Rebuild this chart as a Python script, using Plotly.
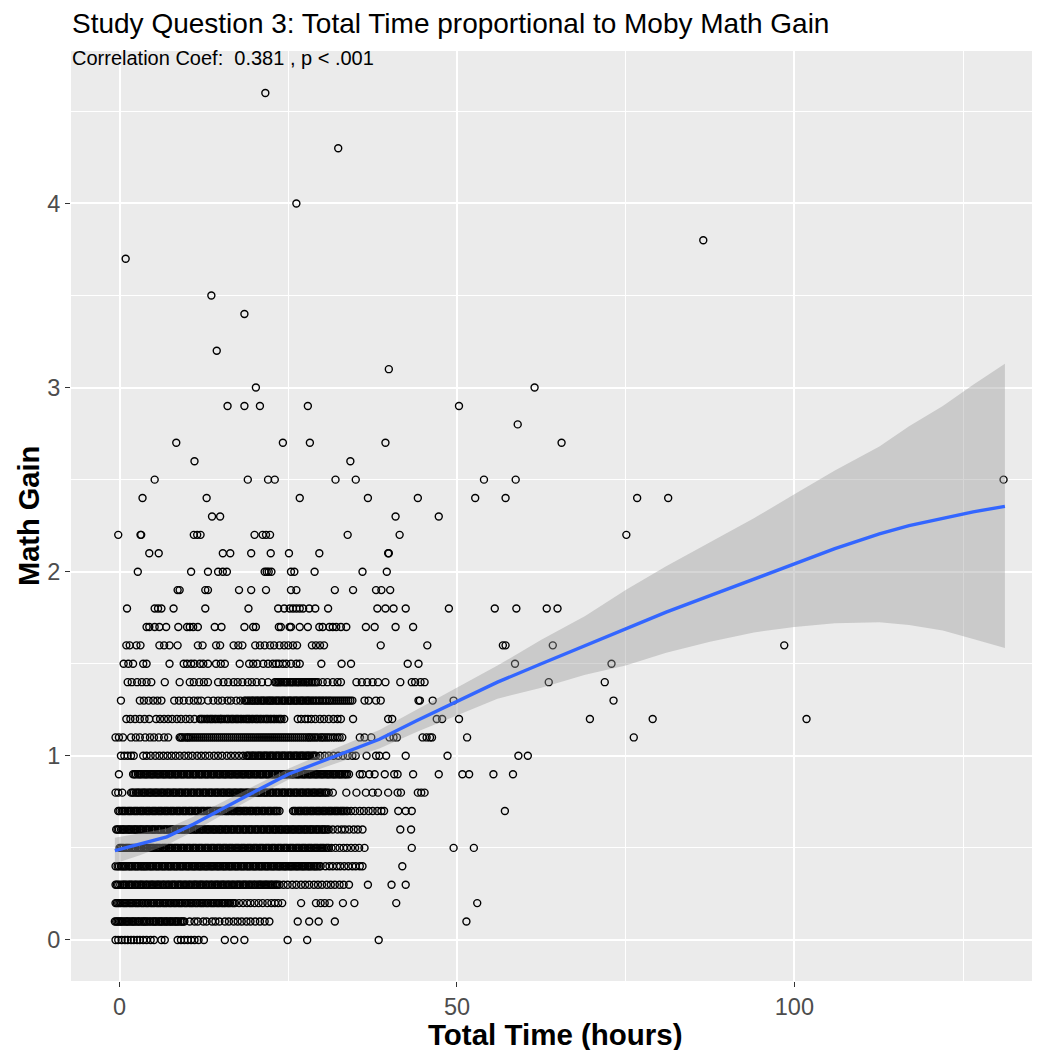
import plotly.graph_objects as go

# ---------------- data ----------------
gain_levels = [0.0, 0.1, 0.2, 0.3, 0.4, 0.5, 0.6, 0.7, 0.8, 0.9, 1.0,
               1.1, 1.2, 1.3, 1.4, 1.5, 1.6, 1.7, 1.8, 1.9, 2.0,
               2.1, 2.2, 2.3, 2.4, 2.5, 2.6, 2.7, 2.8, 2.9, 3.0,
               3.1, 3.2, 3.4, 3.5, 3.7, 3.8, 4.0, 4.3, 4.6]

hours_g00 = [-0.6, -0.2, 0.3, 0.8, 1.2, 1.7, 2.1, 2.6, 3.0, 3.5, 4.0, 4.6, 5.1, 6.2, 6.7,
             8.6, 9.1, 9.6, 10.1, 10.6, 11.1, 11.7, 12.5, 15.6, 17.0, 18.5, 24.9, 27.8, 38.4]
hours_g01 = [-0.7, -0.3, 0.1, 0.5, 1.0, 1.4, 1.9, 2.3, 2.8, 3.3, 3.7, 4.1, 4.6, 5.1, 5.5, 6.0,
             6.4, 6.9, 7.4, 7.8, 8.3, 8.7, 9.2, 9.6, 10.4, 11.1, 11.6, 12.4, 12.9, 13.7, 14.2,
             14.8, 15.6, 16.2, 16.9, 17.5, 18.1, 18.8, 19.4, 20.1, 20.8, 21.5, 22.2, 26.4, 28.1,
             29.5, 31.9, 51.4,
             -0.5, -0.1, 0.3, 0.8, 1.2, 1.7, 2.1, 2.6, 3.0, 3.5, 3.9, 4.4, 4.9, 5.3, 5.8, 6.2,
             6.7, 7.1, 7.6, 8.1, 8.5, 9.0, 9.4]
hours_g02 = [-0.6, -0.2, 0.2, 0.7, 1.1, 1.6, 2.0, 2.5, 2.9, 3.4, 3.9, 4.3, 4.8, 5.2, 5.7, 6.1,
             6.6, 7.0, 7.5, 8.0, 8.4, 8.9, 9.3, 9.8, 10.3, 10.7, 11.2, 11.6, 12.1, 12.5, 13.0,
             13.5, 13.9, 14.4, 14.8, 15.3, 15.7, 16.2, 16.7, 17.1, 17.7, 18.3, 18.9, 19.4, 20.0,
             20.6, 21.2, 21.9, 22.5, 23.0, 23.5, 24.1, 26.9, 29.1, 29.8, 30.4, 31.1, 33.1,
             34.8, 41.0, 53.0,
             -0.4, 0.0, 0.5, 0.9, 1.4, 1.8, 2.3, 2.7, 3.2, 3.6, 4.1, 4.6, 5.0, 5.5, 5.9, 6.4,
             6.8, 7.3, 7.7, 8.2, 8.7, 9.1, 9.6, 10.0, 10.5, 10.9, 11.4, 11.9, 12.3, 12.8, 13.2,
             13.7, 14.1, 14.6, 15.1, 15.5, 16.0, 16.4, 16.9]
hours_g03 = [-0.6, -0.2, 0.4, 0.8, 1.3, 1.7, 2.2, 2.6, 3.1, 3.5, 4.0, 4.5, 4.9, 5.4, 5.8, 6.3,
             6.7, 7.2, 7.7, 8.1, 8.6, 9.0, 9.5, 9.9, 10.4, 10.9, 11.3, 11.8, 12.2, 12.7, 13.1,
             13.6, 14.1, 14.5, 15.0, 15.4, 15.9, 16.3, 16.8, 17.3, 17.7, 18.2, 18.6, 19.1, 19.5,
             20.0, 20.5, 20.9, 21.4, 21.8, 22.3, 22.7, 23.2, 23.7, 24.3, 24.9, 25.6, 26.2, 26.9,
             27.5, 28.1, 28.8, 29.4, 30.0, 30.7, 31.3, 31.9, 32.6, 33.2, 34.0, 36.8, 40.3, 42.4,
             -0.4, 0.1, 0.6, 1.0, 1.5, 1.9, 2.4, 2.9, 3.3, 3.8, 4.2, 4.7, 5.1, 5.6, 6.0, 6.5,
             7.0, 7.4, 7.9, 8.3, 8.8, 9.2, 9.7, 10.2, 10.6, 11.1, 11.5, 12.0, 12.4, 12.9, 13.4,
             13.8, 14.3, 14.7, 15.2, 15.6, 16.1, 16.6, 17.0, 17.5, 17.9, 18.4, 18.8, 19.3, 19.8,
             20.2, 20.7, 21.1, 21.6, 22.0, 22.5, 23.0, 23.4]
hours_g04 = [-0.6, -0.3, 0.2, 0.6, 1.0, 1.5, 1.9, 2.4, 2.8, 3.3, 3.7, 4.1, 4.6, 5.0, 5.5, 5.9,
             6.4, 6.8, 7.3, 7.7, 8.2, 8.6, 9.1, 9.5, 10.0, 10.4, 10.9, 11.3, 11.8, 12.2, 12.7,
             13.1, 13.6, 14.0, 14.5, 14.9, 15.4, 15.8, 16.3, 16.7, 17.2, 17.6, 18.1, 18.5, 19.0,
             19.4, 19.9, 20.3, 20.8, 21.2, 21.7, 22.1, 22.6, 23.0, 23.5, 23.9, 24.4, 24.8, 25.3,
             25.7, 26.2, 26.6, 27.1, 27.5, 28.0, 28.4, 28.9, 29.3, 29.8, 30.5, 31.1, 31.6, 32.2,
             32.7, 33.3, 33.9, 34.5, 35.0, 35.6, 36.0, 41.9,
             -0.1, 0.4, 0.8, 1.3, 1.7, 2.2, 2.6, 3.1, 3.5, 3.9, 4.4, 4.8, 5.3, 5.7, 6.2, 6.6,
             7.1, 7.5, 8.0, 8.4, 8.9, 9.3, 9.8, 10.2, 10.7, 11.1, 11.6, 12.0, 12.5, 12.9, 13.4,
             13.8, 14.3, 14.7, 15.2, 15.6, 16.1, 16.5, 17.0, 17.4, 17.9, 18.3, 18.8, 19.2, 19.7,
             20.1, 20.6, 21.0, 21.5, 21.9, 22.4, 22.8, 23.3, 23.7, 24.2, 24.6, 25.1, 25.5, 26.0,
             26.4, 26.9, 27.3, 27.8, 28.2, 28.7, 29.1, 29.6]
hours_g05 = [0.0, 0.4, 0.9, 1.3, 1.8, 2.2, 2.7, 3.1, 3.6, 4.0, 4.5, 4.9, 5.4, 5.8, 6.3, 6.7,
             7.2, 7.6, 8.1, 8.5, 9.0, 9.4, 9.9, 10.3, 10.8, 11.2, 11.7, 12.1, 12.6, 13.0, 13.5,
             13.9, 14.4, 14.8, 15.3, 15.7, 16.2, 16.6, 17.1, 17.5, 18.0, 18.4, 18.9, 19.3, 19.8,
             20.2, 20.7, 21.1, 21.6, 22.0, 22.5, 22.9, 23.4, 23.8, 24.3, 24.7, 25.2, 25.6, 26.1,
             26.5, 27.0, 27.4, 27.9, 28.3, 28.8, 29.2, 29.7, 30.1, 30.6, 31.0, 31.4, 32.0, 32.6,
             33.2, 33.7, 34.3, 34.9, 35.5, 36.3, 43.3, 49.5, 52.5,
             0.2, 0.6, 1.1, 1.5, 2.0, 2.4, 2.9, 3.3, 3.8, 4.2, 4.7, 5.1, 5.6, 6.0, 6.5, 6.9,
             7.4, 7.8, 8.3, 8.7, 9.2, 9.6, 10.1, 10.5, 11.0, 11.4, 11.9, 12.3, 12.8, 13.2, 13.7,
             14.1, 14.6, 15.0, 15.5, 15.9, 16.4, 16.8, 17.3, 17.7, 18.2, 18.6, 19.1, 19.5, 20.0,
             20.4, 20.9, 21.3, 21.8, 22.2, 22.7, 23.1, 23.6, 24.0, 24.5, 24.9, 25.4, 25.8, 26.3,
             26.7, 27.2, 27.6, 28.1, 28.5, 29.0, 29.4, 29.9, 30.3, 30.8]
hours_g06 = [-0.5, -0.1, 0.4, 0.8, 1.3, 1.7, 2.2, 2.6, 3.1, 3.5, 4.0, 4.4, 4.9, 5.3, 5.8, 6.2,
             6.7, 7.1, 7.6, 8.0, 8.5, 8.9, 9.4, 9.8, 10.3, 10.7, 11.2, 11.6, 12.1, 12.5, 13.0,
             13.4, 13.9, 14.3, 14.8, 15.2, 15.7, 16.1, 16.6, 17.0, 17.5, 17.9, 18.4, 18.8, 19.3,
             19.7, 20.2, 20.6, 21.1, 21.5, 22.0, 22.4, 22.9, 23.3, 23.8, 24.2, 24.7, 25.1, 25.6,
             26.0, 26.5, 26.9, 27.4, 27.8, 28.3, 28.7, 29.2, 29.6, 30.1, 30.5, 31.0, 31.6, 32.3,
             32.9, 33.4, 34.0, 34.7, 35.3, 36.0, 41.6, 43.2,
             -0.3, 0.2, 0.6, 1.1, 1.5, 2.0, 2.4, 2.9, 3.3, 3.8, 4.2, 4.7, 5.1, 5.6, 6.0, 6.5,
             6.9, 7.4, 7.8, 8.3, 8.7, 9.2, 9.6, 10.1, 10.5, 11.0, 11.4, 11.9, 12.3, 12.8, 13.2,
             13.7, 14.1, 14.6, 15.0, 15.5, 15.9, 16.4, 16.8, 17.3, 17.7, 18.2, 18.6, 19.1, 19.5,
             20.0, 20.4, 20.9, 21.3, 21.8, 22.2, 22.7, 23.1, 23.6, 24.0, 24.5, 24.9, 25.4, 25.8,
             26.3, 26.7, 27.2, 27.6, 28.1, 28.5, 29.0, 29.4, 29.9, 30.3, 30.8]
hours_g07 = [-0.2, 0.3, 0.7, 1.2, 1.6, 2.1, 2.5, 3.0, 3.4, 3.9, 4.3, 4.8, 5.2, 5.7, 6.1, 6.6,
             7.0, 7.5, 7.9, 8.4, 8.8, 9.3, 9.7, 10.2, 10.6, 11.1, 11.5, 12.0, 12.4, 12.9, 13.3,
             13.8, 14.2, 14.7, 15.1, 15.6, 16.0, 16.5, 16.9, 17.4, 17.8, 18.3, 18.7, 19.2, 19.6,
             20.1, 20.5, 21.0, 21.4, 21.9, 22.3, 22.8, 23.2, 23.7, 25.7, 26.1, 26.6, 27.0, 27.5,
             27.9, 28.4, 28.8, 29.3, 29.7, 30.2, 30.6, 31.1, 31.5, 32.0, 32.4, 32.9, 33.3, 33.8,
             34.3, 34.9, 35.6, 36.2, 36.9, 37.5, 38.2, 38.8, 39.2, 41.3, 42.4, 43.3, 57.1,
             0.0, 0.5, 0.9, 1.4, 1.8, 2.3, 2.7, 3.2, 3.6, 4.1, 4.5, 5.0, 5.4, 5.9, 6.3, 6.8,
             7.2, 7.7, 8.1, 8.6, 9.0, 9.5, 9.9, 10.4, 10.8, 11.3, 11.7, 12.2, 12.6, 13.1, 13.5,
             14.0, 14.4, 14.9, 15.3, 15.8, 16.2, 16.7, 17.1, 17.6, 18.0, 18.5, 18.9, 19.4, 19.8,
             20.3, 20.7, 21.2, 21.6, 22.1, 22.5, 23.0, 23.4, 25.9, 26.4, 26.8, 27.3, 27.7, 28.2,
             28.6, 29.1, 29.5, 30.0, 30.4, 30.9, 31.3, 31.8, 32.2, 32.7, 33.1, 33.6]
hours_g08 = [-0.6, -0.2, 0.4, 1.7, 2.1, 2.6, 3.0, 3.5, 3.9, 4.4, 4.8, 5.3, 5.7, 6.2, 6.6, 7.1,
             7.5, 8.0, 8.4, 8.9, 9.3, 9.8, 10.2, 10.7, 11.1, 11.6, 12.0, 12.5, 12.9, 13.4, 13.8,
             14.3, 14.7, 15.2, 15.6, 16.1, 16.5, 17.0, 17.4, 17.9, 18.3, 18.8, 19.2, 19.7, 20.1,
             20.6, 21.0, 21.5, 21.9, 22.4, 22.8, 23.3, 23.7, 24.2, 24.6, 25.1, 25.5, 26.0, 26.4,
             26.9, 27.3, 27.8, 28.2, 28.7, 29.1, 29.6, 30.0, 30.5, 31.0, 31.6, 33.6, 35.1, 36.5,
             37.5, 38.3, 39.8, 41.2, 41.7, 44.2, 44.7, 45.2,
             1.9, 2.4, 2.8, 3.3, 3.7, 4.2, 4.6, 5.1, 5.5, 6.0, 6.4, 6.9, 7.3, 7.8, 8.2, 8.7,
             9.1, 9.6, 10.0, 10.5, 10.9, 11.4, 11.8, 12.3, 12.7, 13.2, 13.6, 14.1, 14.5, 15.0,
             15.4, 15.9, 16.3, 16.8, 17.2, 17.7, 18.1, 18.6, 19.0, 19.5, 19.9, 20.4, 20.8, 21.3,
             21.7, 22.2, 22.6, 23.1, 23.5, 24.0, 24.4, 24.9, 25.3, 25.8, 26.2, 26.7, 27.1, 27.6,
             28.0, 28.5, 28.9, 29.4, 29.8, 30.3, 30.7]
hours_g09 = [-0.1, 2.0, 2.4, 2.9, 3.3, 3.8, 4.2, 4.7, 5.1, 5.6, 6.0, 6.5, 6.9, 7.4, 7.8, 8.3,
             8.7, 9.2, 9.6, 10.1, 10.5, 11.0, 11.4, 11.9, 12.3, 12.8, 13.2, 13.7, 14.1, 14.6,
             15.0, 15.5, 15.9, 16.4, 16.8, 17.3, 17.7, 18.2, 18.6, 19.1, 19.5, 20.0, 20.4, 20.9,
             21.3, 21.8, 22.2, 22.7, 23.1, 23.6, 24.0, 24.5, 24.9, 25.4, 25.8, 26.3, 26.7, 27.2,
             27.6, 28.1, 28.5, 29.0, 29.4, 29.9, 30.3, 30.8, 31.2, 31.7, 32.1, 32.6, 33.0, 33.5,
             34.0, 35.6, 36.0, 37.0, 37.8, 39.3, 40.7, 41.2, 43.5, 47.3, 50.8, 51.8, 55.4, 58.3,
             2.2, 2.7, 3.1, 3.6, 4.0, 4.5, 4.9, 5.4, 5.8, 6.3, 6.7, 7.2, 7.6, 8.1, 8.5, 9.0,
             9.4, 9.9, 10.3, 10.8, 11.2, 11.7, 12.1, 12.6, 13.0, 13.5, 13.9, 14.4, 14.8, 15.3,
             15.7, 16.2, 16.6, 17.1, 17.5, 18.0, 18.4, 18.9, 19.3, 19.8, 20.2, 20.7, 21.1, 21.6,
             22.0, 22.5, 22.9, 23.4, 23.8, 24.3, 24.7, 25.2, 25.6, 26.1, 26.5, 27.0, 27.4, 27.9,
             28.3, 28.8, 29.2, 29.7, 30.1, 30.6, 31.0, 31.5, 31.9, 32.4, 32.8, 33.3, 33.7]
hours_g10 = [0.2, 0.7, 1.2, 1.7, 2.1, 3.5, 4.0, 4.6, 5.3, 5.9, 6.5, 7.1, 7.7, 8.3, 8.9, 9.6,
             10.2, 10.8, 11.5, 12.1, 12.7, 13.3, 14.0, 14.6, 15.2, 15.9, 16.5, 17.1, 17.7, 18.3,
             18.8, 19.2, 19.7, 20.1, 20.6, 21.0, 21.5, 21.9, 22.4, 22.8, 23.3, 23.7, 24.2, 24.6,
             25.1, 25.5, 26.0, 26.4, 26.9, 27.3, 27.8, 28.2, 28.7, 29.1, 29.7, 30.4, 31.0, 31.7,
             32.4, 33.1, 33.8, 34.5, 35.0, 36.6, 38.0, 38.5, 39.5, 42.4, 48.6, 59.1, 60.5,
             19.0, 19.5, 19.9, 20.4, 20.8, 21.3, 21.7, 22.2, 22.6, 23.1, 23.5, 24.0, 24.4, 24.9,
             25.3, 25.8, 26.2, 26.7, 27.1, 27.6, 28.0, 28.5, 28.9]
hours_g11 = [-0.6, -0.1, 0.5, 1.7, 2.4, 3.0, 3.8, 4.5, 5.1, 5.8, 6.6, 7.2, 8.9, 9.3, 9.9, 10.3,
             10.9, 11.5, 11.8, 12.4, 13.0, 13.3, 13.9, 14.5, 14.8, 15.4, 16.0, 16.3, 16.9, 17.5,
             17.8, 18.4, 19.0, 19.3, 19.9, 20.5, 20.8, 21.4, 22.0, 22.3, 22.9, 23.5, 23.8, 24.4,
             25.0, 25.3, 25.9, 26.5, 26.8, 27.4, 28.0, 28.5, 29.1, 29.8, 30.3, 30.9, 31.6, 32.3,
             33.0, 35.6, 36.3, 37.3, 40.0, 40.6, 41.1, 44.9, 45.5, 46.0, 46.3, 51.5, 76.2,
             9.1, 9.6, 10.1, 10.6, 11.2, 12.1, 12.7, 13.6, 14.2, 15.1, 15.7, 16.6, 17.2, 18.1,
             18.7, 19.6, 20.2, 21.1, 21.7, 22.6, 23.2, 24.1, 24.7, 25.6, 26.2, 27.1, 27.7, 28.2,
             28.8, 29.4, 30.0, 30.6, 31.2, 31.9, 32.6]
hours_g12 = [1.0, 1.6, 2.3, 3.0, 3.7, 4.4, 5.4, 6.0, 6.6, 7.2, 7.8, 8.5, 9.1, 9.8, 10.4, 11.1,
             11.9, 12.3, 12.9, 13.4, 13.8, 14.3, 14.9, 15.2, 15.8, 16.2, 16.7, 17.2, 17.6, 18.1,
             18.7, 19.1, 19.6, 20.1, 20.5, 21.0, 21.6, 22.0, 22.5, 23.0, 23.6, 24.0, 24.4, 26.4,
             26.9, 27.5, 27.9, 28.4, 29.0, 29.7, 30.3, 31.0, 31.7, 32.3, 32.8, 34.6, 39.8, 40.4,
             47.0, 47.8, 50.3, 69.7, 79.0, 101.8,
             12.1, 12.6, 13.1, 13.6, 14.1, 14.6, 15.0, 15.5, 16.0, 16.5, 16.9, 17.4, 17.9, 18.4,
             18.9, 19.3, 19.8, 20.3, 20.8, 21.3, 21.8, 22.3, 22.8, 23.3, 23.8]
hours_g13 = [0.2, 3.0, 3.6, 4.3, 5.0, 5.6, 6.2, 8.1, 8.8, 9.5, 10.3, 11.0, 11.6, 12.1, 13.1,
             13.9, 14.6, 15.2, 16.0, 16.5, 17.3, 17.9, 18.5, 19.0, 19.5, 19.9, 20.4, 20.9, 21.3,
             21.8, 22.2, 22.6, 23.1, 23.5, 24.0, 24.4, 24.9, 25.3, 25.8, 26.2, 26.7, 27.1, 27.6,
             28.0, 28.5, 29.0, 29.5, 30.0, 30.5, 31.0, 31.5, 32.1, 32.7, 33.3, 33.9, 34.5, 36.3,
             36.9, 38.0, 38.7, 44.3, 44.5, 46.4, 49.5, 73.2,
             18.7, 19.2, 19.7, 20.2, 20.6, 21.1, 21.5, 22.0, 22.4, 22.8, 23.3, 23.7, 24.2, 24.6,
             25.1, 25.5, 26.0, 26.4, 26.9, 27.3, 27.8, 28.2, 28.7, 29.2, 29.7, 30.2, 30.7, 31.2,
             31.8, 32.4, 33.0, 33.6, 34.2]
hours_g14 = [1.2, 1.8, 2.6, 3.3, 4.0, 4.7, 6.7, 8.9, 10.4, 11.0, 11.8, 12.5, 13.1, 14.6, 15.4,
             16.1, 16.9, 17.5, 18.2, 19.0, 19.6, 20.3, 21.1, 22.0, 23.0, 23.4, 23.8, 24.3, 24.7,
             25.2, 25.6, 26.1, 26.5, 27.0, 27.5, 27.9, 28.4, 28.9, 29.4, 30.1, 30.8, 31.6, 32.3,
             32.8, 35.1, 35.9, 36.7, 37.5, 38.3, 39.4, 41.6, 43.3, 43.8, 44.6, 45.2, 63.6, 71.9,
             23.2, 23.6, 24.0, 24.5, 24.9, 25.4, 25.8, 26.3, 26.7, 27.2, 27.7, 28.1, 28.6, 29.1]
hours_g15 = [0.6, 1.3, 2.0, 3.5, 4.0, 7.4, 9.5, 10.0, 10.6, 11.1, 11.9, 12.4, 13.1, 14.3, 15.0,
             15.6, 17.8, 19.2, 19.8, 20.4, 21.3, 22.0, 22.7, 23.2, 23.6, 24.2, 24.7, 25.4, 26.2,
             26.7, 29.9, 32.9, 34.3, 42.7, 44.3, 58.6, 72.9]
hours_g16 = [1.0, 1.5, 2.5, 3.1, 5.9, 6.6, 7.4, 8.6, 11.6, 12.3, 14.3, 14.9, 16.9, 17.6, 18.2,
             20.1, 20.8, 21.5, 22.3, 22.9, 23.7, 24.4, 25.0, 25.7, 26.3, 28.5, 29.1, 29.7, 30.3,
             38.7, 45.6, 56.8, 57.2, 64.2, 98.5]
hours_g17 = [4.0, 4.4, 5.2, 5.9, 6.9, 8.7, 10.0, 10.4, 10.9, 11.6, 14.1, 15.1, 18.5, 19.8, 20.2,
             23.6, 23.9, 25.2, 25.4, 26.7, 27.9, 29.6, 30.1, 31.1, 31.6, 32.1, 32.8, 33.6, 36.5,
             37.8, 40.9, 43.5]
hours_g18 = [1.1, 5.2, 5.7, 6.2, 8.0, 12.7, 19.1, 23.5, 24.4, 25.2, 25.7, 26.2, 26.7, 27.2,
             28.1, 29.0, 30.9, 38.2, 39.4, 40.6, 42.4, 48.8, 55.6, 58.8, 63.3, 64.9]
hours_g19 = [8.6, 8.9, 12.7, 13.1, 17.7, 19.5, 21.7, 25.4, 26.2, 31.9, 34.6, 38.0, 38.8, 40.1]
hours_g20 = [2.7, 10.6, 13.1, 14.6, 15.3, 15.9, 21.5, 21.8, 22.1, 22.5, 25.4, 25.9, 28.9,
             36.0, 39.6]
hours_g21 = [4.4, 5.8, 15.3, 16.4, 19.5, 22.4, 25.1, 29.6, 39.8, 39.9]
hours_g22 = [-0.2, 3.1, 3.2, 11.0, 11.5, 12.0, 20.0, 21.2, 21.7, 22.3, 33.8, 41.5, 75.1]
hours_g23 = [13.7, 14.9, 40.9, 47.3]
hours_g24 = [3.4, 12.9, 26.7, 36.8, 44.2, 52.7, 57.2, 76.7, 81.3]
hours_g25 = [5.2, 19.0, 22.0, 23.0, 32.0, 35.0, 54.0, 58.7, 131.0]
hours_g26 = [11.1, 34.2]
hours_g27 = [8.4, 24.2, 28.2, 39.4, 65.5]
hours_g28 = [59.0]
hours_g29 = [16.0, 18.5, 20.8, 27.9, 50.3]
hours_g30 = [20.2, 61.5]
hours_g31 = [39.9]
hours_g32 = [14.4]
hours_g34 = [18.5]
hours_g35 = [13.6]
hours_g37 = [0.9]
hours_g38 = [86.5]
hours_g40 = [26.2]
hours_g43 = [32.4]
hours_g46 = [21.6]

hours_by_level = [hours_g00, hours_g01, hours_g02, hours_g03, hours_g04, hours_g05, hours_g06,
                  hours_g07, hours_g08, hours_g09, hours_g10, hours_g11, hours_g12, hours_g13,
                  hours_g14, hours_g15, hours_g16, hours_g17, hours_g18, hours_g19, hours_g20,
                  hours_g21, hours_g22, hours_g23, hours_g24, hours_g25, hours_g26, hours_g27,
                  hours_g28, hours_g29, hours_g30, hours_g31, hours_g32, hours_g34, hours_g35,
                  hours_g37, hours_g38, hours_g40, hours_g43, hours_g46]

fit_x = [-0.7, 3, 7, 11, 15, 20, 25, 31, 38.5, 44, 50, 56, 62.5, 69, 75, 81, 87.5, 94, 100,
         106, 112.6, 117, 122, 126.5, 131.2]
fit_y = [0.485, 0.52, 0.56, 0.63, 0.71, 0.805, 0.90, 0.985, 1.09, 1.19, 1.295, 1.40, 1.50,
         1.60, 1.69, 1.78, 1.87, 1.96, 2.04, 2.125, 2.205, 2.25, 2.29, 2.325, 2.355]
fit_hi = [0.555, 0.58, 0.605, 0.67, 0.745, 0.835, 0.93, 1.025, 1.14, 1.25, 1.37, 1.49, 1.63,
          1.76, 1.90, 2.03, 2.16, 2.29, 2.42, 2.55, 2.68, 2.79, 2.90, 3.015, 3.13]
fit_lo = [0.415, 0.46, 0.515, 0.59, 0.675, 0.775, 0.87, 0.945, 1.04, 1.13, 1.22, 1.31, 1.37,
          1.44, 1.49, 1.56, 1.62, 1.67, 1.70, 1.72, 1.725, 1.71, 1.68, 1.635, 1.585]

title_text = "Study Question 3: Total Time proportional to Moby Math Gain"
subtitle_text = "Correlation Coef:  0.381 , p < .001"
x_title = "Total Time (hours)"
y_title = "Math Gain"
x_ticks = [0, 50, 100]
y_ticks = [0, 1, 2, 3, 4]

# ---------------- figure ----------------
pts_x, pts_y = [], []
for lvl, hrs in zip(gain_levels, hours_by_level):
    for h in hrs:
        pts_x.append(h)
        pts_y.append(lvl)

FONT = "Liberation Sans, Arial, Helvetica, sans-serif"

fig = go.Figure()
fig.add_trace(go.Scatter(
    x=pts_x, y=pts_y, mode="markers",
    marker=dict(symbol="circle-open", size=7, color="black", line=dict(width=1.4, color="black")),
    showlegend=False, hoverinfo="x+y"))

fig.add_trace(go.Scatter(
    x=fit_x + fit_x[::-1], y=fit_hi + fit_lo[::-1],
    mode="lines", fill="toself", fillcolor="rgba(153,153,153,0.4)",
    line=dict(width=0), showlegend=False, hoverinfo="skip"))

fig.add_trace(go.Scatter(
    x=fit_x, y=fit_y, mode="lines",
    line=dict(color="#3366FF", width=3.4),
    showlegend=False, hoverinfo="skip"))

# the page body adds an 8px offset, so the figure is 8px smaller than the window
OFF = 8
W, H = 1040 - OFF, 1050 - OFF
ML, MR, MT, MB = 63, 0, 43, 69
PW, PH = W - ML - MR, H - MT - MB

fig.update_layout(
    width=W, height=H,
    margin=dict(l=ML, r=MR, t=MT, b=MB, pad=0),
    paper_bgcolor="white", plot_bgcolor="#EBEBEB",
    font=dict(family=FONT, color="black"),
    showlegend=False,
    xaxis=dict(range=[-7.2, 136.4], tickmode="array", tickvals=x_ticks,
               ticktext=[str(v) for v in x_ticks],
               showgrid=True, gridcolor="white", gridwidth=1.6,
               zeroline=False, showline=False,
               ticks="outside", ticklen=5, tickwidth=1.1, tickcolor="#333333",
               tickfont=dict(size=23.5, color="#4D4D4D", family=FONT),
               minor=dict(dtick=25, tick0=0, showgrid=True, gridcolor="white", gridwidth=0.8),
               fixedrange=True),
    yaxis=dict(range=[-0.223, 4.828], tickmode="array", tickvals=y_ticks,
               ticktext=[str(v) for v in y_ticks],
               showgrid=True, gridcolor="white", gridwidth=1.6,
               zeroline=False, showline=False,
               ticks="outside", ticklen=5, tickwidth=1.1, tickcolor="#333333",
               tickfont=dict(size=23.5, color="#4D4D4D", family=FONT),
               minor=dict(dtick=0.5, tick0=0, showgrid=True, gridcolor="white", gridwidth=0.8),
               fixedrange=True),
)

fig.add_annotation(text=title_text, xref="paper", yref="paper",
                   x=(62 - ML) / PW, y=1 + (MT - 15) / PH, xanchor="left", yanchor="middle",
                   showarrow=False, font=dict(size=28, color="black", family=FONT))
fig.add_annotation(text=subtitle_text, xref="paper", yref="paper",
                   x=(62 - ML) / PW, y=1 - (50 - MT) / PH, xanchor="left", yanchor="middle",
                   showarrow=False, font=dict(size=20, color="black", family=FONT))
fig.add_annotation(text="<b>" + x_title + "</b>", xref="paper", yref="paper",
                   x=0.5, y=-(1026 - (MT + PH)) / PH, xanchor="center", yanchor="middle",
                   showarrow=False, font=dict(size=29.5, color="black", family=FONT))
fig.add_annotation(text="<b>" + y_title + "</b>", xref="paper", yref="paper",
                   x=(21 - ML) / PW, y=0.5, xanchor="center", yanchor="middle",
                   textangle=-90, showarrow=False,
                   font=dict(size=29, color="black", family=FONT))

fig.write_html("out.html")
